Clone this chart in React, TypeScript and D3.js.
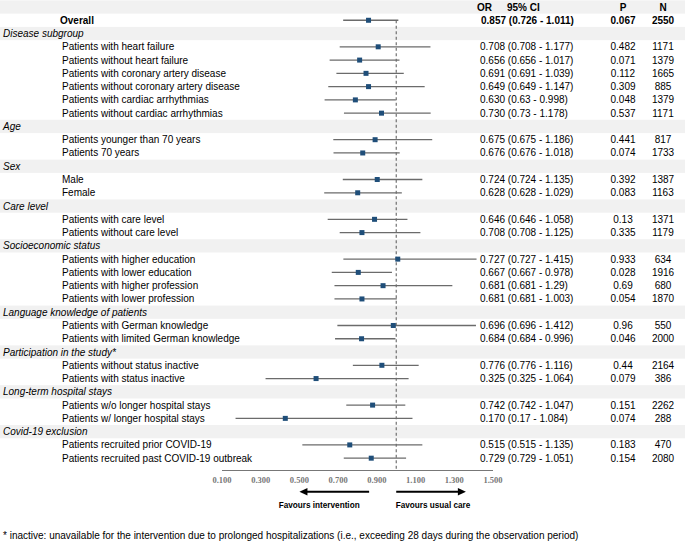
import React from "react";
import * as d3 from "d3";

const groupNames = [
  "Disease subgroup",
  "Age",
  "Sex",
  "Care level",
  "Socioeconomic status",
  "Language knowledge of patients",
  "Participation in the study*",
  "Long-term hospital stays",
  "Covid-19 exclusion",
];

const subgroupLabels = [
  "Patients with heart failure",
  "Patients without heart failure",
  "Patients with coronary artery disease",
  "Patients without coronary artery disease",
  "Patients with cardiac arrhythmias",
  "Patients without cardiac arrhythmias",
  "Patients younger than 70 years",
  "Patients 70 years",
  "Male",
  "Female",
  "Patients with care level",
  "Patients without care level",
  "Patients with higher education",
  "Patients with lower education",
  "Patients with higher profession",
  "Patients with lower profession",
  "Patients with German knowledge",
  "Patients with limited German knowledge",
  "Patients without status inactive",
  "Patients with status inactive",
  "Patients w/o longer hospital stays",
  "Patients w/ longer hospital stays",
  "Patients recruited prior COVID-19",
  "Patients recruited past COVID-19 outbreak",
];

const subgroupGroup = [0, 0, 0, 0, 0, 0, 1, 1, 2, 2, 3, 3, 4, 4, 4, 4, 5, 5, 6, 6, 7, 7, 8, 8];

// point estimates as drawn
const estimates = [
  0.907, 0.811, 0.844, 0.857, 0.789, 0.924, 0.891, 0.827, 0.902, 0.801, 0.888, 0.823,
  1.008, 0.804, 0.932, 0.823, 0.985, 0.821, 0.926, 0.586, 0.878, 0.427, 0.76, 0.871,
];

const orValues = [
  0.708, 0.656, 0.691, 0.649, 0.63, 0.73, 0.675, 0.676, 0.724, 0.628, 0.646, 0.708,
  0.727, 0.667, 0.681, 0.681, 0.696, 0.684, 0.776, 0.325, 0.742, 0.17, 0.515, 0.729,
];

const ciLow = [
  0.708, 0.656, 0.691, 0.649, 0.63, 0.73, 0.675, 0.676, 0.724, 0.628, 0.646, 0.708,
  0.727, 0.667, 0.681, 0.681, 0.696, 0.684, 0.776, 0.325, 0.742, 0.17, 0.515, 0.729,
];

const ciHigh = [
  1.177, 1.017, 1.039, 1.147, 0.998, 1.178, 1.186, 1.018, 1.135, 1.029, 1.058, 1.125,
  1.415, 0.978, 1.29, 1.003, 1.412, 0.996, 1.116, 1.064, 1.047, 1.084, 1.135, 1.051,
];

const pValues = [
  0.482, 0.071, 0.112, 0.309, 0.048, 0.537, 0.441, 0.074, 0.392, 0.083, 0.13, 0.335,
  0.933, 0.028, 0.69, 0.054, 0.96, 0.046, 0.44, 0.079, 0.151, 0.074, 0.183, 0.154,
];

const nValues = [
  1171, 1379, 1665, 885, 1379, 1171, 817, 1733, 1387, 1163, 1371, 1179,
  634, 1916, 680, 1870, 550, 2000, 2164, 386, 2262, 288, 470, 2080,
];

const overallEstimate = 0.857;
const overallOR = 0.857;
const overallLow = 0.726;
const overallHigh = 1.011;
const overallP = 0.067;
const overallN = 2550;

const axisTicks = [0.1, 0.3, 0.5, 0.7, 0.9, 1.1, 1.3, 1.5];

const footnote =
  "* inactive: unavailable for the intervention due to prolonged hospitalizations (i.e., exceeding 28 days during the observation period)";

type Row =
  | { kind: "header" }
  | { kind: "overall" }
  | { kind: "group"; label: string }
  | { kind: "item"; idx: number };

export default function App() {
  const W = 685;
  const H = 542;

  const rows: Row[] = [{ kind: "header" }, { kind: "overall" }];
  let lastGroup = -1;
  subgroupLabels.forEach((_, i) => {
    const g = subgroupGroup[i];
    if (g !== lastGroup) {
      rows.push({ kind: "group", label: groupNames[g] });
      lastGroup = g;
    }
    rows.push({ kind: "item", idx: i });
  });

  const rowH = 13.27;
  const yRow = d3.scaleLinear().domain([0, 1]).range([7, 7 + rowH]);
  const x = d3.scaleLinear().domain([0.1, 1.5]).range([222, 493]);

  const axisY = 470.5;
  const font = "Liberation Sans, Arial, sans-serif";
  const markerColor = "#1f4e79";
  const lineColor = "#6b6b6b";
  const band = "#f1f1f1";
  const ms = 5;

  const ciText = (lo: number, hi: number) => `(${lo} - ${hi})`;

  return (
    <svg
      width={W}
      height={H}
      style={{ position: "absolute", left: 0, top: 0, background: "#fff" }}
      fontFamily={font}
    >
      {rows.map((r, i) =>
        r.kind === "header" || r.kind === "group" ? (
          <rect key={"b" + i} x={0} y={yRow(i) - rowH / 2} width={W} height={rowH} fill={band} />
        ) : null
      )}

      {/* reference line */}
      <line
        x1={x(1)}
        x2={x(1)}
        y1={yRow(1)}
        y2={axisY}
        stroke="#555"
        strokeWidth={1}
        strokeDasharray="3,2.5"
      />

      {rows.map((r, i) => {
        const y = yRow(i);
        if (r.kind === "header") {
          return (
            <g key={"r" + i} fontSize={10} fontWeight="bold" fill="#000">
              <text x={477} y={y} dy="0.35em">OR</text>
              <text x={507} y={y} dy="0.35em">95% CI</text>
              <text x={623} y={y} dy="0.35em" textAnchor="middle">P</text>
              <text x={663} y={y} dy="0.35em" textAnchor="middle">N</text>
            </g>
          );
        }
        if (r.kind === "overall") {
          return (
            <g key={"r" + i}>
              <line x1={x(overallLow)} x2={x(overallHigh)} y1={y} y2={y} stroke={lineColor} strokeWidth={1.3} />
              <rect x={x(overallEstimate) - ms / 2} y={y - ms / 2} width={ms} height={ms} fill={markerColor} />
              <g fontSize={10} fontWeight="bold" fill="#000">
                <text x={60} y={y} dy="0.35em">Overall</text>
                <text x={481} y={y} dy="0.35em">
                  {overallOR.toFixed(3) + " " + ciText(overallLow, overallHigh)}
                </text>
                <text x={623} y={y} dy="0.35em" textAnchor="middle">{String(overallP)}</text>
                <text x={663} y={y} dy="0.35em" textAnchor="middle">{String(overallN)}</text>
              </g>
            </g>
          );
        }
        if (r.kind === "group") {
          return (
            <text key={"r" + i} x={3} y={y} dy="0.35em" fontSize={10} fontStyle="italic" fill="#000">
              {r.label}
            </text>
          );
        }
        const k = r.idx;
        return (
          <g key={"r" + i}>
            <line x1={x(ciLow[k])} x2={x(ciHigh[k])} y1={y} y2={y} stroke={lineColor} strokeWidth={1.3} />
            <rect x={x(estimates[k]) - ms / 2} y={y - ms / 2} width={ms} height={ms} fill={markerColor} />
            <g fontSize={10} fill="#000">
              <text x={62} y={y} dy="0.35em">{subgroupLabels[k]}</text>
              <text x={480} y={y} dy="0.35em">
                {orValues[k].toFixed(3) + " " + ciText(ciLow[k], ciHigh[k])}
              </text>
              <text x={623} y={y} dy="0.35em" textAnchor="middle">{String(pValues[k])}</text>
              <text x={663} y={y} dy="0.35em" textAnchor="middle">{String(nValues[k])}</text>
            </g>
          </g>
        );
      })}

      {/* axis */}
      <line x1={x(0.1)} x2={x(1.5)} y1={axisY} y2={axisY} stroke="#777" strokeWidth={1} />
      {axisTicks.map((t) => (
        <text
          key={t}
          x={x(t)}
          y={483}
          textAnchor="middle"
          fontSize={8.5}
          fontFamily="Liberation Serif, Times New Roman, serif"
          fontWeight="bold"
          fill="#777"
        >
          {t.toFixed(3)}
        </text>
      ))}

      {/* arrows */}
      <line x1={x(0.86)} x2={x(0.5) + 6} y1={491.7} y2={491.7} stroke="#000" strokeWidth={2} />
      <path
        d={`M${x(0.5)},491.7 L${x(0.5) + 8},488 L${x(0.5) + 8},495.4 Z`}
        fill="#000"
      />
      <line x1={x(1.0)} x2={x(1.36) - 6} y1={491.7} y2={491.7} stroke="#000" strokeWidth={2} />
      <path
        d={`M${x(1.36)},491.7 L${x(1.36) - 8},488 L${x(1.36) - 8},495.4 Z`}
        fill="#000"
      />
      <text x={x(0.602)} y={507.5} textAnchor="middle" fontSize={8.2} fontWeight="bold" fill="#000">
        Favours intervention
      </text>
      <text x={x(1.19)} y={507.5} textAnchor="middle" fontSize={8.2} fontWeight="bold" fill="#000">
        Favours usual care
      </text>

      <text x={3} y={539} fontSize={10} fill="#000">
        {footnote}
      </text>
    </svg>
  );
}
